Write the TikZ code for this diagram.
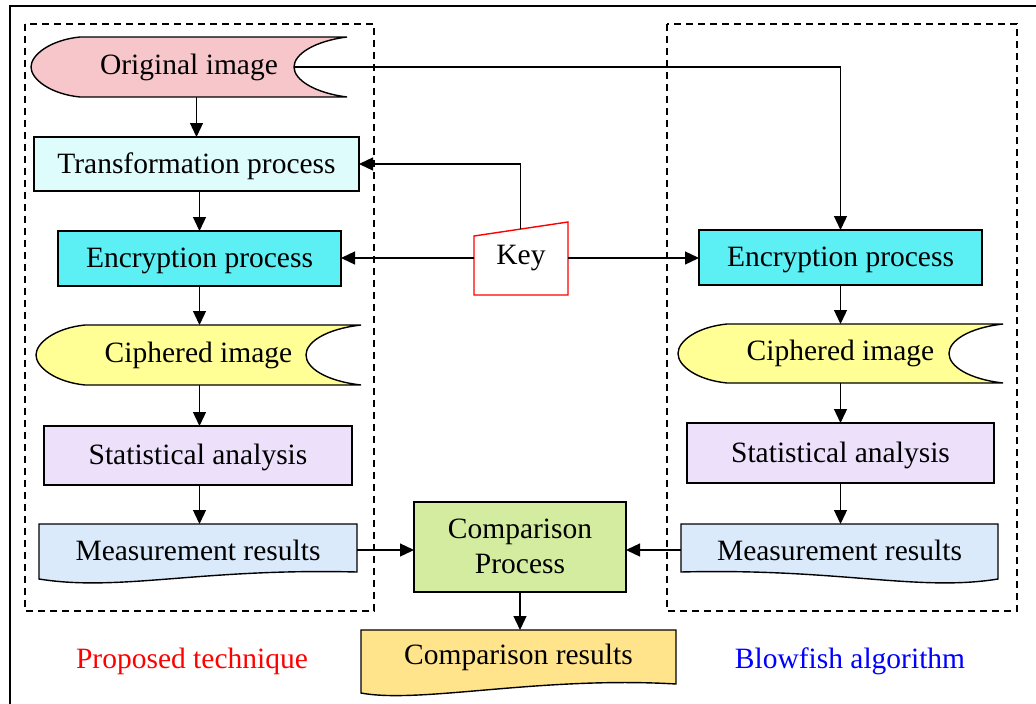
\documentclass[tikz,border=0pt]{standalone}
\usepackage{fontspec}
\setmainfont{Liberation Serif}
\usetikzlibrary{arrows.meta}
\definecolor{pinkc}{RGB}{247,198,202}
\definecolor{tcyan}{RGB}{222,252,252}
\definecolor{ecyan}{RGB}{92,240,245}
\definecolor{cyell}{RGB}{255,255,150}
\definecolor{slav}{RGB}{236,224,250}
\definecolor{mblue}{RGB}{218,234,250}
\definecolor{cgreen}{RGB}{212,236,160}
\definecolor{corange}{RGB}{255,228,140}
\tikzset{
  shapeline/.style={draw=black, line width=1.4pt, line join=miter},
  boxnode/.style={shapeline, inner sep=0pt, outer sep=0pt, font=\fontsize{29.5}{35}\selectfont, align=center, text depth=2pt},
  txtnode/.style={inner sep=0pt, outer sep=0pt, font=\fontsize{29.5}{35}\selectfont, align=center},
  arr/.style={line width=1.3pt, -{Triangle[length=14pt,width=13pt]}},
  group/.style={line width=1.3pt, dash pattern=on 7pt off 5pt},
}
\begin{document}
\begin{tikzpicture}[x=1pt,y=-1pt]
\useasboundingbox (0,0) rectangle (1036,704);
% outer frame
\draw[line width=1.5pt] (1040,6) -- (10,6) -- (10,710);
% dashed groups
\draw[group] (25,24) rectangle (374,611);
\draw[group] (667,24) rectangle (1017,611);

% ---- left column ----
\draw[shapeline, fill=pinkc] (347,37) -- (80,37) .. controls (50,40) and (31,55) .. (31,67) .. controls (31,79) and (50,94) .. (80,97) -- (347,97) .. controls (315,93) and (294,80) .. (294,67) .. controls (294,54) and (315,41) .. (347,37) -- cycle;
\node[txtnode, minimum width=316pt, minimum height=60pt] (orig) at (189,67) {Original image};
\coordinate (origR) at (294,67);

\node[boxnode, fill=tcyan, minimum width=325pt, minimum height=54pt] (tp) at (196.5,164) {Transformation process};
\node[boxnode, fill=ecyan, minimum width=283pt, minimum height=55pt] (encL) at (199.5,258.5) {Encryption process};

\draw[shapeline, fill=cyell] (361,325) -- (85,325) .. controls (55,328) and (36,343) .. (36,355) .. controls (36,367) and (55,382) .. (85,385) -- (361,385) .. controls (326,381) and (306,368) .. (306,355) .. controls (306,342) and (326,329) .. (361,325) -- cycle;
\node[txtnode, minimum width=325pt, minimum height=60pt] (cipL) at (198.5,355) {Ciphered image};

\node[boxnode, fill=slav, minimum width=308pt, minimum height=59pt] (statL) at (198,455.5) {Statistical analysis};

\draw[shapeline, fill=mblue] (357,524) -- (39,524) -- (39,579) .. controls (120,592) and (200,568) .. (357,572) -- cycle;
\node[txtnode, minimum width=318pt, minimum height=52pt] (measL) at (198,550) {Measurement results};

% ---- key ----
\draw[red, line width=1.4pt, fill=white, line join=miter] (474,295) -- (474,236) -- (568,222) -- (568,295) -- cycle;
\node[txtnode, minimum width=94pt, minimum height=60pt] (key) at (521,258) {Key};
\coordinate (keytop) at (520.5,229);

% ---- right column ----
\node[boxnode, fill=ecyan, minimum width=283pt, minimum height=55pt] (encR) at (840.5,257.5) {Encryption process};

\draw[shapeline, fill=cyell] (1003,324) -- (727,324) .. controls (697,327) and (678,341) .. (678,353.5) .. controls (678,366) and (697,380) .. (727,383) -- (1003,383) .. controls (968,379) and (949,366) .. (949,353.5) .. controls (949,341) and (968,328) .. (1003,324) -- cycle;
\node[txtnode, minimum width=325pt, minimum height=59pt] (cipR) at (840.5,353.5) {Ciphered image};

\node[boxnode, fill=slav, minimum width=307pt, minimum height=60pt] (statR) at (840.5,453) {Statistical analysis};

\draw[shapeline, fill=mblue] (998,524) -- (681,524) -- (681,572) .. controls (838,568) and (918,592) .. (998,579) -- cycle;
\node[txtnode, minimum width=317pt, minimum height=52pt] (measR) at (839.5,550) {Measurement results};

% ---- comparison ----
\node[boxnode, fill=cgreen, minimum width=212pt, minimum height=90pt] (comp) at (520,547) {Comparison\\Process};

\draw[shapeline, fill=corange] (676,630) -- (361,630) -- (361,693) .. controls (420,704) and (540,676) .. (676,684) -- cycle;
\node[txtnode, minimum width=315pt, minimum height=54pt] (compres) at (518.5,657) {Comparison results};

% labels
\node[txtnode, text=red] (lblL) at (192,661) {Proposed technique};
\node[txtnode, text=blue] (lblR) at (850,661) {Blowfish algorithm};

% ---- connectors ----
\draw[arr] (orig.south -| tp.north) -- (tp.north);
\draw[arr] (encL.north |- tp.south) -- (encL.north);
\draw[arr] (encL.south) -- (encL.south |- cipL.north);
\draw[arr] (encL.south |- cipL.south) -- (encL.south |- statL.north);
\draw[arr] (encL.south |- statL.south) -- (encL.south |- measL.north);

\draw[arr] (keytop) |- (tp.east);
\draw[arr] (key.west) -- (key.west -| encL.east);
\draw[arr] (key.east) -- (key.east -| encR.west);
\draw[arr] (origR) -| (encR.north);

\draw[arr] (encR.south) -- (encR.south |- cipR.north);
\draw[arr] (encR.south |- cipR.south) -- (statR.north);
\draw[arr] (statR.south) -- (statR.south |- measR.north);

\draw[arr] (measL.east) -- (measL.east -| comp.west);
\draw[arr] (measR.west) -- (measR.west -| comp.east);
\draw[arr] (comp.south) -- (comp.south |- compres.north);
\end{tikzpicture}
\end{document}
